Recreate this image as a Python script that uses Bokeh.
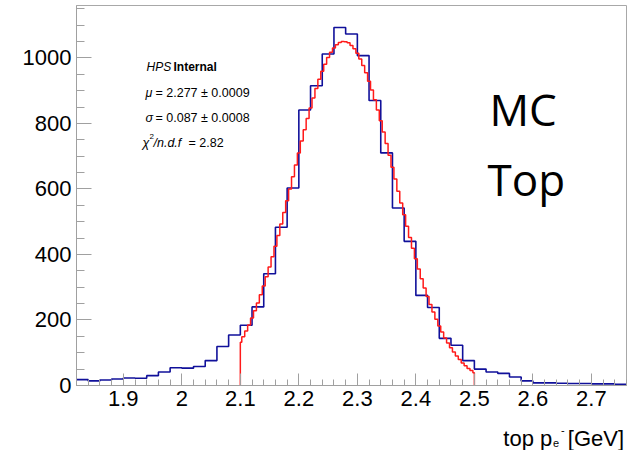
from bokeh.plotting import figure
from bokeh.models import Range1d, FixedTicker, Label
from bokeh.layouts import column
from bokeh.embed import file_html
from bokeh.resources import INLINE

# ---------------- data ----------------
hist_start = 1.82
hist_bin_width = 0.02
hist_counts = [18, 14, 17, 20, 23, 22, 30, 41, 54, 53, 58, 76, 119, 154, 184, 240,
               341, 483, 603, 841, 915, 1012, 1093, 1073, 1007, 870, 710, 542, 440,
               275, 238, 144, 123, 76, 50, 41, 37, 26, 14, 8, 8, 7, 6, 6, 5, 5, 4]

fit_start = 2.10
fit_stop = 2.50
fit_step = 0.005
fit_values = [132, 149, 166, 185, 206, 228, 252, 277, 304, 332, 362, 393, 425, 458,
              493, 528, 564, 600, 637, 673, 710, 746, 781, 815, 847, 878, 907, 935,
              959, 981, 1001, 1017, 1030, 1040, 1047, 1050, 1049, 1046, 1038, 1028,
              1014, 997, 977, 955, 929, 902, 872, 841, 808, 774, 739, 703, 666, 630,
              593, 557, 521, 486, 452, 419, 387, 356, 326, 298, 272, 247, 224, 202,
              182, 163, 145, 130, 115, 102, 90, 79, 69, 60, 52, 46, 39]

x_ticks = [1.9, 2.0, 2.1, 2.2, 2.3, 2.4, 2.5, 2.6, 2.7]
x_tick_labels = ["1.9", "2", "2.1", "2.2", "2.3", "2.4", "2.5", "2.6", "2.7"]
y_ticks = [0, 200, 400, 600, 800, 1000]
y_tick_labels = ["0", "200", "400", "600", "800", "1000"]

stat_lines = [("\u03bc", "= 2.277 \u00b1 0.0009"), ("\u03c3", "= 0.087 \u00b1 0.0008")]
chi2_text = "= 2.82"

# ---------------- main figure ----------------
W = 637
H1 = 417          # main figure (frame bottom at y=385)
H2 = 450 - H1     # strip below for the x-axis title
L, R, T, B = 76, 11, 5, H1 - 385
x_lo, x_hi = 1.82, 2.76
y_lo, y_hi = 0, 1160

p = figure(width=W, height=H1, output_backend="svg", toolbar_location=None,
           x_range=Range1d(x_lo, x_hi), y_range=Range1d(y_lo, y_hi),
           min_border_left=L, min_border_right=R, min_border_top=T, min_border_bottom=B)
p.background_fill_color = "white"
p.border_fill_color = "white"
p.outline_line_color = "#a8a8a8"
p.outline_line_width = 1
p.xgrid.visible = False
p.ygrid.visible = False

gray = "#a0a0a0"
nminor_x = int(round((x_hi - x_lo) / 0.02))
p.xaxis.ticker = FixedTicker(ticks=x_ticks,
                             minor_ticks=[round(x_lo + 0.02 * i, 3) for i in range(nminor_x + 1)])
p.xaxis.major_label_overrides = {t: s for t, s in zip(x_ticks, x_tick_labels)}
p.yaxis.ticker = FixedTicker(ticks=y_ticks, minor_ticks=list(range(0, 1200, 50)))
p.yaxis.major_label_overrides = {t: s for t, s in zip(y_ticks, y_tick_labels)}

for ax in (p.xaxis[0], p.yaxis[0]):
    ax.axis_line_color = gray
    ax.major_tick_line_color = gray
    ax.minor_tick_line_color = gray
    ax.major_tick_out = 0
    ax.minor_tick_out = 0
    ax.major_label_text_font = "Liberation Sans"
    ax.major_label_text_font_size = "22px"
    ax.major_label_text_color = "black"
    ax.major_label_standoff = 5
p.xaxis.major_tick_in = 12
p.xaxis.minor_tick_in = 6
p.yaxis.major_tick_in = 15
p.yaxis.minor_tick_in = 8

# histogram (step outline)
hx, hy = [], []
for i, c in enumerate(hist_counts):
    x0 = hist_start + i * hist_bin_width
    hx += [x0, x0 + hist_bin_width]
    hy += [c, c]
p.line(hx, hy, line_color="#10109a", line_width=1.6)

# fit function drawn as fine staircase, dropping to zero at ends
fx, fy = [fit_start], [0]
for i, v in enumerate(fit_values):
    xc = fit_start + i * fit_step
    a = max(fit_start, xc - fit_step / 2)
    b = min(fit_stop, xc + fit_step / 2)
    fx += [a, b]
    fy += [v, v]
fx.append(fit_stop)
fy.append(0)
p.line(fx, fy, line_color="#ff1a1a", line_width=1.5)

# ---------------- text inside the frame ----------------
def lab(text, cx, cy, size, font="Liberation Sans", style="normal", align="left", color="black"):
    p.add_layout(Label(x=cx - L, y=385 - cy, x_units="screen", y_units="screen", text=text,
                       text_font=font, text_font_size=size, text_font_style=style,
                       text_align=align, text_baseline="alphabetic", text_color=color))

lab("HPS", 146, 66, "12px", style="italic")
lab("Internal", 173, 66, "12px", style="bold")
for k, (sym, rest) in enumerate(stat_lines):
    base = 92 + 25 * k
    lab(sym, 145, base, "12.5px", style="italic")
    lab(rest, 155, base, "12.5px")
lab("\u03c7", 142, 142, "12.5px", style="italic")
lab("2", 149, 136, "8px")
lab("/n.d.f", 153, 142, "12.5px", style="italic")
lab(chi2_text, 188, 142, "12.5px")

lab("MC", 489, 108, "44px", font="Open Sans")
lab("Top", 487, 178, "44px", font="Open Sans")

# ---------------- strip below: x axis title  top p_{e^-} [GeV] ----------------
q = figure(width=W, height=H2, output_backend="svg", toolbar_location=None,
           x_range=Range1d(0, W), y_range=Range1d(H2, 0),
           x_axis_type=None, y_axis_type=None,
           min_border_left=0, min_border_right=0, min_border_top=0, min_border_bottom=0)
q.outline_line_color = None
q.background_fill_color = "white"
q.border_fill_color = "white"
q.xgrid.visible = False
q.ygrid.visible = False

def tlab(text, cx, cy, size, align="left"):
    q.add_layout(Label(x=cx, y=cy - H1, text=text, text_font="Liberation Sans",
                       text_font_size=size, text_align=align, text_baseline="alphabetic",
                       text_color="black"))

tlab("top p", 551, 438, "22px", align="right")
tlab("e", 552, 442, "11px")
tlab("-", 561, 429, "11px")
tlab("[GeV]", 569, 438, "22px")

layout = column(p, q, spacing=0)
open("out.html", "w").write(file_html(layout, INLINE))
